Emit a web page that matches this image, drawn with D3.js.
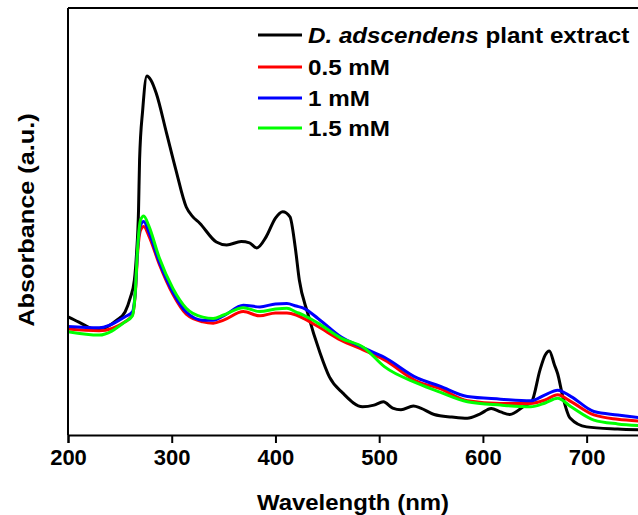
<html>
<head>
  <title>UV-Vis spectra</title>
  <script src='https://d3js.org/d3.v7.min.js'></script>
  <style>
    body { margin: 0; background: #fff; }
    text { font-family: 'Liberation Sans', Arial, sans-serif; font-weight: bold; }
  </style>
</head>
<body>
<script>
var width = 638,
    height = 515;

// wavelength (nm) and absorbance (a.u.)
var extractWl  = [200,210,228,247,255,260,264,266,268,269,272,276,280,285,295,304,314,320,327,343,353,367,375,382,391,400,407,414,419,423,431,443,452,465,484,495,504,513,521,533,540,553,570,585,597,608,617,626,640,647,655,660,664,669,672,677,684,700,730,750];
var extractAbs = [0.277,0.265,0.246,0.269,0.288,0.321,0.363,0.422,0.527,0.644,0.761,0.841,0.831,0.801,0.707,0.621,0.534,0.512,0.496,0.452,0.445,0.453,0.450,0.438,0.464,0.508,0.523,0.511,0.441,0.363,0.286,0.192,0.136,0.098,0.066,0.070,0.078,0.063,0.059,0.068,0.063,0.048,0.042,0.039,0.049,0.062,0.054,0.048,0.068,0.078,0.152,0.187,0.197,0.164,0.144,0.090,0.040,0.019,0.014,0.012];

var wl = [200,230,255,262,265,267,270,273,278,288,301,314,330,340,350,369,385,400,411,420,427,441,463,485,505,537,558,585,617,646,660,672,685,707,730,750];
var abs05 = [0.248,0.244,0.265,0.281,0.335,0.422,0.480,0.488,0.466,0.400,0.330,0.283,0.265,0.262,0.269,0.289,0.279,0.286,0.286,0.281,0.273,0.254,0.222,0.199,0.176,0.125,0.109,0.080,0.074,0.074,0.082,0.094,0.078,0.047,0.037,0.033];
var abs1  = [0.254,0.251,0.277,0.288,0.340,0.433,0.492,0.500,0.475,0.405,0.335,0.288,0.269,0.269,0.279,0.304,0.300,0.307,0.308,0.302,0.297,0.273,0.230,0.204,0.182,0.133,0.115,0.090,0.084,0.080,0.094,0.105,0.090,0.055,0.047,0.041];
var abs15 = [0.242,0.234,0.265,0.279,0.340,0.433,0.504,0.513,0.489,0.415,0.344,0.297,0.276,0.273,0.281,0.298,0.289,0.295,0.297,0.288,0.281,0.262,0.227,0.205,0.160,0.121,0.101,0.078,0.070,0.066,0.075,0.086,0.066,0.035,0.026,0.022];

var seriesNames = ['plant extract', '0.5 mM', '1 mM', '1.5 mM'];
var seriesColors = ['#000000', '#ff0000', '#0000ff', '#00ff00'];
var xTicks = [200, 300, 400, 500, 600, 700];

var series = [
  { wl: extractWl, y: extractAbs },
  { wl: wl, y: abs05 },
  { wl: wl, y: abs1 },
  { wl: wl, y: abs15 }
];

var svg = d3.select('body')
  .append('svg')
  .attr('width', width)
  .attr('height', height);

var x = d3.scaleLinear().domain([200, 750]).range([68, 638.5]);
var y = d3.scaleLinear().domain([0, 1]).range([435, 8]);

var line = d3.line()
  .x(function(d) { return x(d[0]); })
  .y(function(d) { return y(d[1]); })
  .curve(d3.curveMonotoneX);

var lines = svg.append('g');
series.forEach(function(s, i) {
  lines.append('path')
    .datum(d3.zip(s.wl, s.y))
    .attr('fill', 'none')
    .attr('stroke', seriesColors[i])
    .attr('stroke-width', 3)
    .attr('stroke-linejoin', 'round')
    .attr('d', line);
});

// frame
svg.append('line')
  .attr('x1', x(200)).attr('x2', width)
  .attr('y1', 8).attr('y2', 8)
  .attr('stroke', '#000').attr('stroke-width', 2);
svg.append('line')
  .attr('x1', x(200)).attr('x2', x(200))
  .attr('y1', 8).attr('y2', 435)
  .attr('stroke', '#000').attr('stroke-width', 2);

var xAxis = svg.append('g')
  .attr('transform', 'translate(0,435)')
  .call(d3.axisBottom(x).tickValues(xTicks).tickSize(8).tickPadding(6));
xAxis.select('.domain').attr('stroke-width', 2);
xAxis.selectAll('.tick line').attr('stroke-width', 2);
xAxis.selectAll('.tick text')
  .style('font-size', '22px')
  .style('font-family', "'Liberation Sans', Arial, sans-serif")
  .style('font-weight', 'bold')
  .attr('fill', '#000');

// the original lettering is a bit wider than Arial, so stretch it horizontally
svg.append('g')
  .attr('transform', 'translate(353,510) scale(1.09,1)')
  .append('text')
  .attr('text-anchor', 'middle')
  .style('font-size', '22px')
  .text('Wavelength (nm)');

svg.append('g')
  .attr('transform', 'translate(34,220) rotate(-90) scale(1.15,1)')
  .append('text')
  .attr('text-anchor', 'middle')
  .style('font-size', '22px')
  .text('Absorbance (a.u.)');

// legend
var rowY = [35, 67, 98, 128];
var legend = svg.append('g');
seriesNames.forEach(function(name, i) {
  legend.append('line')
    .attr('x1', 258).attr('x2', 302)
    .attr('y1', rowY[i]).attr('y2', rowY[i])
    .attr('stroke', seriesColors[i]).attr('stroke-width', 3);
  var t = legend.append('g')
    .attr('transform', 'translate(308,' + rowY[i] + ') scale(1.1,1)')
    .append('text')
    .attr('dy', '0.36em')
    .style('font-size', '22px');
  if (i === 0) {
    t.append('tspan').style('font-style', 'italic').text('D. adscendens');
    t.append('tspan').text(' ' + name);
  } else {
    t.text(name);
  }
});
</script>
</body>
</html>
